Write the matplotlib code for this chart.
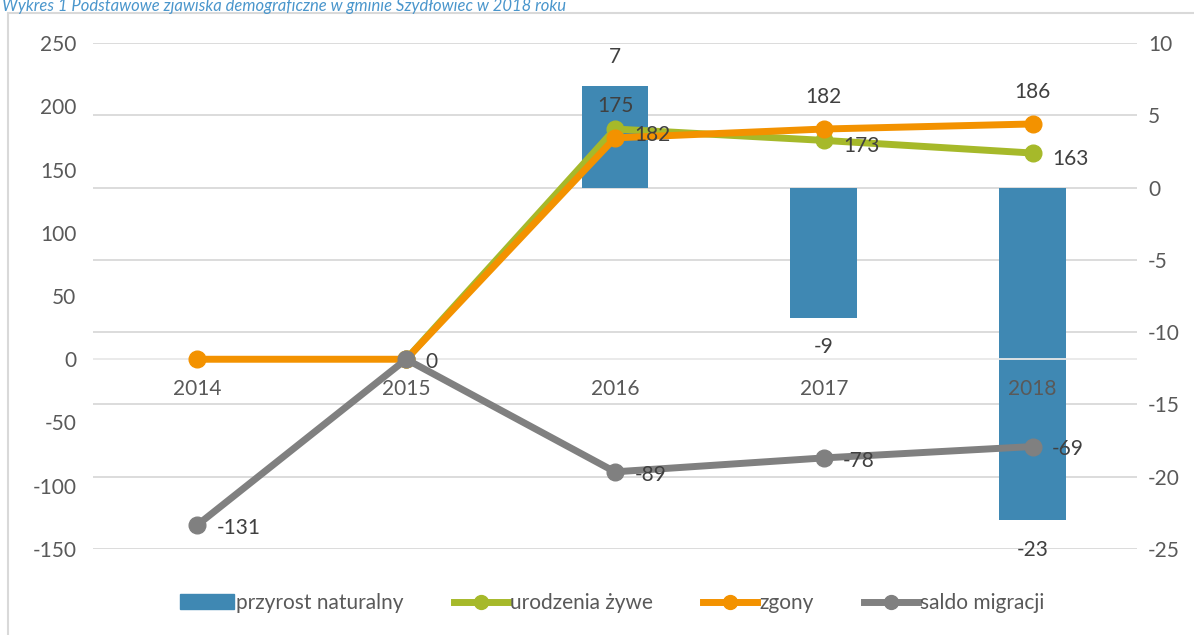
import numpy as np
import matplotlib
matplotlib.use("Agg")
import matplotlib.pyplot as plt
from matplotlib.patches import Rectangle
from matplotlib.lines import Line2D

lata = ["2014", "2015", "2016", "2017", "2018"]
przyrost = [0, 0, 7, -9, -23]
urodzenia = [0, 0, 182, 173, 163]
zgony = [0, 0, 175, 182, 186]
saldo = [-131, 0, -89, -78, -69]

c_bar = "#3f88b3"
c_green = "#a6b92a"
c_orange = "#f39200"
c_gray = "#808080"
c_tick = "#595959"
c_lab = "#404040"

plt.rcParams['font.family'] = ['Lato', 'DejaVu Sans']
plt.rcParams['axes.unicode_minus'] = False

fig = plt.figure(figsize=(11.94, 6.35), dpi=100)
ax = fig.add_axes([93/1194, 1-549/635, (1137-93)/1194, (549-43)/635])
ax2 = ax.twinx()

x = np.arange(len(lata))

# slupki na prawej osi
ax2.bar(x, przyrost, width=0.32, color=c_bar, zorder=1)
ax2.set_ylim(-25, 10)
ax2.set_yticks(range(-25, 11, 5))

ax.set_zorder(ax2.get_zorder() + 1)
ax.patch.set_visible(False)

ax.set_ylim(-150, 250)
ax.set_yticks(range(-150, 251, 50))
ax.set_xlim(-0.5, 4.5)
# siatka pod slupkami - rysowana na ax2
for v in range(-25, 11, 5):
    ax2.axhline(v, color="#d9d9d9", lw=1.3, zorder=0)
ax.axhline(0, color="#e8e8e8", lw=1.3, zorder=2)

lw = 5
ms = 12
ax.plot(x[1:], urodzenia[1:], color=c_green, lw=lw, marker="o", ms=ms, zorder=3)
ax.plot(x, zgony, color=c_orange, lw=lw, marker="o", ms=ms, zorder=4)
ax.plot(x, saldo, color=c_gray, lw=lw, marker="o", ms=ms, zorder=5)

fs = 15
for i in range(len(lata)):
    if urodzenia[i] != 0:
        ax.annotate(str(urodzenia[i]), (x[i], urodzenia[i]), xytext=(14, -4),
                    textcoords="offset points", ha="left", va="center",
                    fontsize=fs, color=c_lab, zorder=6)
    if zgony[i] != 0:
        ax.annotate(str(zgony[i]), (x[i], zgony[i]), xytext=(0, 16),
                    textcoords="offset points", ha="center", va="bottom",
                    fontsize=fs, color=c_lab, zorder=6)
    ax.annotate(str(saldo[i]), (x[i], saldo[i]), xytext=(14, -2),
                textcoords="offset points", ha="left", va="center",
                fontsize=fs, color=c_lab, zorder=6)
    if przyrost[i] != 0:
        off = 14 if przyrost[i] > 0 else -14
        ax2.annotate(str(przyrost[i]), (x[i], przyrost[i]), xytext=(0, off),
                     textcoords="offset points", ha="center",
                     va="bottom" if przyrost[i] > 0 else "top",
                     fontsize=fs, color=c_lab)

# etykiety kategorii przy zerze lewej osi
ax.set_xticks([])
for i, t in enumerate(lata):
    ax.text(x[i], -16, t, ha="center", va="top", fontsize=fs, color=c_tick, zorder=6)

for a in (ax, ax2):
    for s in a.spines.values():
        s.set_visible(False)
    a.tick_params(length=0, labelsize=fs, colors=c_tick)
ax.tick_params(axis="y", pad=12)
ax2.tick_params(axis="y", pad=8)

handles = [
    Rectangle((0, 0), 1, 1, color=c_bar),
    Line2D([], [], color=c_green, lw=lw, marker="o", ms=10),
    Line2D([], [], color=c_orange, lw=lw, marker="o", ms=10),
    Line2D([], [], color=c_gray, lw=lw, marker="o", ms=10),
]
names = ["przyrost naturalny", "urodzenia żywe", "zgony", "saldo migracji"]
fig.legend(handles, names, loc="center", bbox_to_anchor=(612/1194, 1-603/635),
           ncol=4, frameon=False, fontsize=fs, labelcolor=c_tick,
           handlelength=2.6, handletextpad=0.1, columnspacing=2.4)

# ramka wykresu
fig.add_artist(Rectangle((8/1194, -0.01), 1.2, 1 - 13/635 + 0.01,
                         transform=fig.transFigure, fill=False,
                         edgecolor="#d9d9d9", lw=1.5))
fig.text(0.002, 1 - 6/635, "Wykres 1 Podstawowe zjawiska demograficzne w gminie Szydłowiec w 2018 roku",
         ha="left", va="center", fontsize=12, style="italic", color="#4a96cc")

fig.savefig("out.png", dpi=100)
